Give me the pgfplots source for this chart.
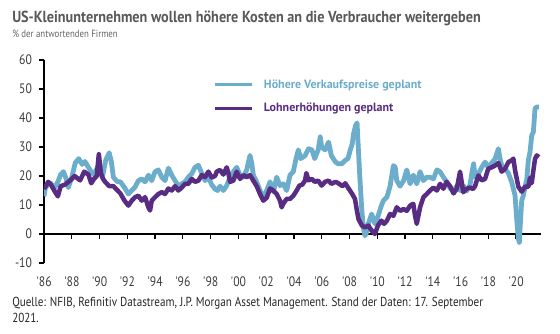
\documentclass[border=0pt]{standalone}
\usepackage{fontspec}
\setmainfont{PT Sans}
\newfontfamily\cond{PT Sans}[FakeStretch=0.85]
\newfontfamily\condt{PT Sans}[FakeStretch=0.89]
\usepackage{xcolor}
\usepackage{pgfplots}
\pgfplotsset{compat=1.18}
\definecolor{cblue}{RGB}{108,173,204}
\definecolor{cpurple}{RGB}{88,44,131}
\definecolor{ctitle}{RGB}{88,89,91}
\definecolor{csub}{RGB}{100,100,104}
\definecolor{ctick}{RGB}{60,60,60}
\pgfplotsset{base/.style={
  at={(0,0)}, anchor=south west,
  scale only axis, width=372.75pt, height=152.25pt,
  xmin=1986, xmax=2021.8, ymin=-10, ymax=60,
  xtick={1986,1988,...,2020},
}}
\begin{document}
\begin{tikzpicture}
\useasboundingbox (-33pt,-52.5pt) rectangle (387pt,197.25pt);
% zero line with ticks
\begin{axis}[base,
  axis x line=middle, axis y line=none,
  every inner x axis line/.style={-},
  every outer x axis line/.style={-},
  axis line style={black, line width=1.1pt},
  hide obscured x ticks=false,
  xtick align=outside, major tick length=4pt,
  tick style={black, line width=1pt},
  xticklabels={},
]
\end{axis}
\begin{axis}[base,
  axis y line=left, axis x line=bottom,
  every outer y axis line/.style={-},
  every outer x axis line/.style={-},
  y axis line style={black, line width=1.1pt},
  x axis line style={draw=none},
  ytick align=outside, major tick length=4pt,
  ytick style={black, line width=1pt},
  xtick style={draw=none},
  ytick={-10,0,10,20,30,40,50,60},
  xticklabels={'86,'88,'90,'92,'94,'96,'98,'00,'02,'04,'06,'08,'10,'12,'14,'16,'18,'20},
  /pgf/number format/assume math mode=true,
  ticklabel style={font=\fontsize{10.3}{12}\selectfont\cond, text=ctick},
  xticklabel style={yshift=-5pt},
  yticklabel style={xshift=-1.5pt},
  legend style={at={(axis description cs:0.34,0.82)}, anchor=west, draw=none, fill=none,
    inner sep=0pt, row sep=5.5pt, column sep=6pt,
    font=\fontsize{9}{11}\selectfont\bfseries, cells={anchor=west}},
  legend image code/.code={\draw[#1, line width=2.3pt] (0pt,0pt) -- (27.75pt,0pt);},
  line join=round,
]
\addplot[cblue, line width=3.6pt] coordinates {
(1986.0,13) (1986.1,16) (1986.3,17) (1986.5,17.5) (1986.7,15.5) (1987.0,18) (1987.2,20.5) (1987.4,21.5) (1987.6,19) (1987.75,16)
(1988.0,19.5) (1988.25,24.5) (1988.5,26) (1988.75,24) (1988.95,25) (1989.2,23) (1989.4,21.5) (1989.6,20.5) (1989.9,23.5) (1990.2,19.5)
(1990.45,25.5) (1990.7,28) (1990.85,25) (1991.0,19.5) (1991.3,18) (1991.5,18) (1991.8,16) (1992.08,13.8) (1992.32,15) (1992.56,16.2)
(1992.8,18.4) (1993.04,19) (1993.28,18) (1993.52,20.3) (1993.76,18.4) (1994.0,21.5) (1994.24,22.1) (1994.48,19.6) (1994.72,18.4) (1994.96,22.7)
(1995.2,20.3) (1995.44,18.4) (1995.68,16.5) (1995.92,17.3) (1996.16,18) (1996.4,19.6) (1996.64,20.8) (1996.88,23) (1997.12,23.7) (1997.36,21)
(1997.6,18.4) (1997.84,19.6) (1998.08,17) (1998.32,15.5) (1998.5,15) (1998.68,16.5) (1998.92,15) (1999.16,16.7) (1999.4,19.6) (1999.64,21.5)
(1999.88,23) (2000.12,20.3) (2000.36,19.6) (2000.6,22.1) (2000.84,27.1) (2000.96,24.5) (2001.08,20.3) (2001.32,18) (2001.56,15) (2001.8,12.7)
(2002.04,15) (2002.28,18) (2002.52,14.5) (2002.76,19.6) (2003.0,16.7) (2003.24,17.3) (2003.48,15) (2003.72,20.3) (2003.96,21.5) (2004.15,25.9)
(2004.32,29) (2004.5,26) (2004.8,27) (2005.05,29.4) (2005.3,29) (2005.5,26) (2005.75,29) (2005.9,33.5) (2006.0,30) (2006.25,29)
(2006.5,31.7) (2006.7,27) (2007.0,24.8) (2007.2,24.2) (2007.45,24.2) (2007.7,25.4) (2007.9,26) (2008.05,28.8) (2008.2,31) (2008.3,34.6)
(2008.45,37.5) (2008.55,38.3) (2008.65,28.8) (2008.75,19.6) (2008.88,9.2) (2009.0,2.3) (2009.12,-0.6) (2009.24,0.6) (2009.36,3.5) (2009.6,6.9)
(2009.84,3.5) (2010.05,6) (2010.3,9.8) (2010.45,11.5) (2010.7,12.7) (2010.93,16.5) (2011.17,23.6) (2011.3,23) (2011.41,18.4) (2011.65,16.5)
(2011.9,18.4) (2012.13,22.1) (2012.37,17.3) (2012.6,20.3) (2012.85,17.3) (2013.09,21.5) (2013.33,18.4) (2013.57,19.6) (2013.81,19.6) (2014.05,19)
(2014.3,22.1) (2014.53,21.5) (2014.77,19.6) (2015.0,18) (2015.25,15.7) (2015.5,15) (2015.73,16.5) (2015.97,15) (2016.2,16.7) (2016.45,14.8)
(2016.69,17) (2016.85,22) (2016.95,24.2) (2017.05,19.6) (2017.29,20.8) (2017.53,23) (2017.77,24.8) (2018.0,23) (2018.25,24.5) (2018.49,25.9)
(2018.73,29.4) (2018.85,26) (2018.97,23.6) (2019.21,22.5) (2019.45,21) (2019.69,17.9) (2019.93,13.3) (2020.05,5.2) (2020.17,-1.7) (2020.24,-2.9)
(2020.33,5) (2020.41,11.5) (2020.53,13.3) (2020.65,16.3) (2020.77,18.5) (2020.89,25.4) (2021.01,28.3) (2021.13,34) (2021.25,35.2) (2021.37,43.3)
(2021.49,43.8) (2021.65,43.8)
};
\addlegendentry{\textcolor{cblue}{Höhere Verkaufspreise geplant}}
\addplot[cpurple, line width=3.4pt] coordinates {
(1986.0,15.5) (1986.3,18) (1986.5,17) (1986.8,14.5) (1987.0,13) (1987.2,16.5) (1987.5,17) (1987.9,18.5) (1988.2,20) (1988.6,18.5)
(1988.9,21.5) (1989.2,20.5) (1989.4,17.5) (1989.6,19) (1989.8,20) (1989.95,27.5) (1990.1,21) (1990.25,19) (1990.4,18) (1990.7,16.5)
(1991.0,16.5) (1991.2,15.5) (1991.5,14) (1991.8,11.5) (1992.08,9.8) (1992.32,11.5) (1992.56,12.7) (1992.8,13.2) (1993.04,11.5) (1993.28,12.7)
(1993.52,9.2) (1993.64,8.1) (1993.76,11.5) (1994.0,12.7) (1994.24,13.8) (1994.48,14.4) (1994.72,13.8) (1994.96,15.7) (1995.2,15) (1995.44,16.5)
(1995.68,15) (1995.92,16) (1996.16,17.3) (1996.4,17.3) (1996.64,19) (1996.88,18) (1997.12,18.4) (1997.36,20.3) (1997.6,19.6) (1997.84,21.5)
(1998.08,19.5) (1998.32,20) (1998.44,21.5) (1998.68,22.1) (1998.92,20.5) (1999.16,23) (1999.28,21) (1999.4,18) (1999.64,18.4) (1999.88,21.5)
(2000.12,19) (2000.36,20.3) (2000.6,19.6) (2000.84,20.3) (2001.08,18.4) (2001.32,16.5) (2001.56,13.8) (2001.8,11.5) (2002.04,12.5) (2002.28,15.7)
(2002.52,15) (2002.76,13.8) (2003.0,11.5) (2003.12,9.2) (2003.24,10.5) (2003.48,12.1) (2003.72,12.1) (2003.96,13.2) (2004.2,15) (2004.4,16.7)
(2004.6,17) (2004.8,18.4) (2004.9,21) (2005.05,18.5) (2005.3,19) (2005.5,18) (2005.75,18.4) (2006.0,16.7) (2006.25,18) (2006.5,18.4)
(2006.7,17.3) (2007.0,18) (2007.2,17.5) (2007.5,16.5) (2007.7,17.5) (2007.9,16) (2008.2,13.8) (2008.4,12.1) (2008.5,9.2) (2008.65,5.2)
(2008.9,2.9) (2009.12,2.3) (2009.36,2.9) (2009.6,1.2) (2009.84,0) (2010.05,2.9) (2010.3,4.6) (2010.5,3.5) (2010.7,4.6) (2010.93,6.9)
(2011.17,6.3) (2011.41,9.2) (2011.65,8) (2011.9,8.6) (2012.13,8) (2012.37,9.8) (2012.6,10.4) (2012.73,6.3) (2012.85,3.5) (2013.09,9.2)
(2013.33,12.7) (2013.57,13.8) (2013.81,15) (2014.05,16) (2014.3,15) (2014.53,17.3) (2014.77,15.6) (2015.0,18) (2015.25,16.5) (2015.5,14)
(2015.73,15.6) (2015.97,21.5) (2016.2,14.4) (2016.45,15.6) (2016.69,16) (2016.9,15.5) (2017.05,16.5) (2017.29,20.2) (2017.53,18.5) (2017.77,19)
(2018.0,22.5) (2018.25,23) (2018.49,23.6) (2018.73,24.5) (2018.97,21.5) (2019.21,22.5) (2019.45,24.8) (2019.69,25.4) (2019.81,26) (2019.93,22)
(2020.17,16.3) (2020.41,14.6) (2020.65,16.3) (2020.89,16.3) (2021.01,19.4) (2021.13,17.5) (2021.25,21.9) (2021.37,25.9) (2021.49,27.1) (2021.65,26.5)
};
\addlegendentry{\textcolor{cpurple}{Lohnerhöhungen geplant}}
\end{axis}
\node[anchor=base west, inner sep=0pt, text=ctitle, font=\fontsize{12}{14}\selectfont\bfseries\condt] at (-24pt,180.2pt) {US-Kleinunternehmen wollen höhere Kosten an die Verbraucher weitergeben};
\node[anchor=base west, inner sep=0pt, text=csub, font=\fontsize{7.8}{9}\selectfont\cond] at (-24pt,169.5pt) {\% der antwortenden Firmen};
\node[anchor=base west, inner sep=0pt, text=black!85, font=\fontsize{9.8}{12}\selectfont\cond] at (-24pt,-32.25pt) {Quelle: NFIB, Refinitiv Datastream, J.P. Morgan Asset Management. Stand der Daten: 17. September};
\node[anchor=base west, inner sep=0pt, text=black!85, font=\fontsize{9.8}{12}\selectfont\cond] at (-24pt,-44.25pt) {2021.};
\end{tikzpicture}
\end{document}
